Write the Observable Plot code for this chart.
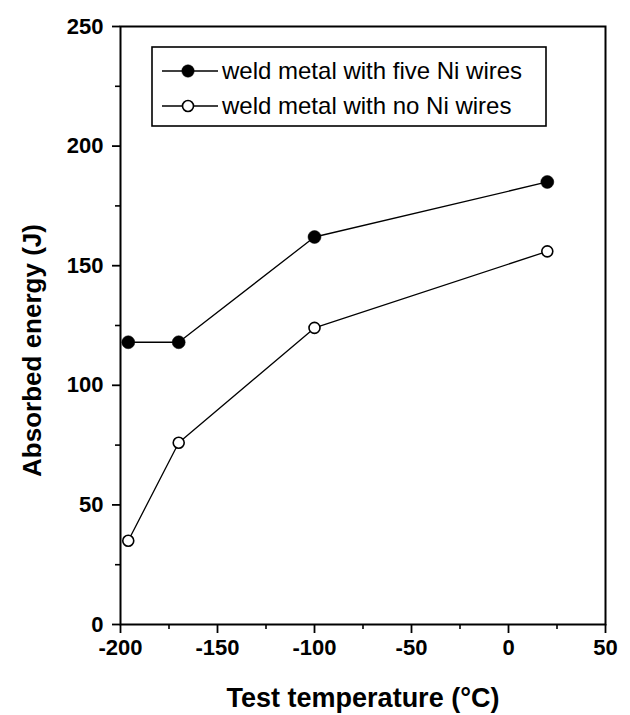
<!DOCTYPE html>
<html>
<head>
<meta charset="utf-8">
<script src="https://cdn.jsdelivr.net/npm/d3@7"></script>
<script src="https://cdn.jsdelivr.net/npm/@observablehq/plot@0.6"></script>
<style>
  html, body { margin: 0; padding: 0; background: white; }
  #chart { position: relative; width: 630px; height: 715px; }
</style>
</head>
<body>
<div id="chart"></div>
<script>
// Data
const temperatures = [-196, -170, -100, 20];
const fiveNiWires = [118, 118, 162, 185];
const noNiWires = [35, 76, 124, 156];
const seriesNames = ["weld metal with five Ni wires", "weld metal with no Ni wires"];
const xTicks = [-200, -150, -100, -50, 0, 50];
const xMinorTicks = [-175, -125, -75, -25, 25];
const yTicks = [0, 50, 100, 150, 200, 250];
const yMinorTicks = [25, 75, 125, 175, 225];
const xTitle = "Test temperature (°C)";
const yTitle = "Absorbed energy (J)";

const five = temperatures.map((t, i) => ({x: t, y: fiveNiWires[i]}));
const none = temperatures.map((t, i) => ({x: t, y: noNiWires[i]}));

const font = "Liberation Sans, Arial, Helvetica, sans-serif";

const plot = Plot.plot({
  width: 630,
  height: 715,
  marginLeft: 120,
  marginRight: 25,
  marginTop: 26,
  marginBottom: 91,
  style: {fontFamily: font, fontSize: "22px", fontWeight: "bold", background: "white", color: "black"},
  x: {domain: [-200, 50]},
  y: {domain: [0, 250]},
  marks: [
    Plot.axisX({ticks: xMinorTicks, tickSize: 5, text: null, label: null, strokeWidth: 1.6}),
    Plot.axisX({ticks: xTicks, tickSize: 9, tickPadding: 6, strokeWidth: 1.8, tickFormat: d => String(d), label: null, fontSize: 22}),
    Plot.axisY({ticks: yMinorTicks, tickSize: 5, text: null, label: null, strokeWidth: 1.6}),
    Plot.axisY({ticks: yTicks, tickSize: 8, tickPadding: 9, strokeWidth: 1.8, tickFormat: d => String(d), label: null, fontSize: 22}),
    Plot.frame({stroke: "black", strokeWidth: 2}),
    Plot.line(five, {x: "x", y: "y", stroke: "black", strokeWidth: 1.3}),
    Plot.line(none, {x: "x", y: "y", stroke: "black", strokeWidth: 1.3}),
    Plot.dot(five, {x: "x", y: "y", r: 6.5, fill: "black", stroke: "black", strokeWidth: 0.5}),
    Plot.dot(none, {x: "x", y: "y", r: 5.5, fill: "white", stroke: "black", strokeWidth: 1.6}),
    Plot.text([xTitle], {frameAnchor: "bottom", lineAnchor: "middle", textAnchor: "middle", dy: 74, fontSize: 27, fontWeight: "bold", fill: "black"}),
    Plot.text([yTitle], {frameAnchor: "left", lineAnchor: "middle", textAnchor: "middle", dx: -88, dy: 25, rotate: -90, fontSize: 26, fontWeight: "bold", fill: "black"})
  ]
});

document.getElementById("chart").appendChild(plot);

// Legend box inside the plot area
const svg = d3.select(plot);
const lg = svg.append("g").attr("font-family", font).attr("text-anchor", "start");
const bx = 152, by = 47, bw = 394, bh = 79;
lg.append("rect").attr("x", bx).attr("y", by).attr("width", bw).attr("height", bh)
  .attr("fill", "white").attr("stroke", "black").attr("stroke-width", 1.6);
const rows = [
  {name: seriesNames[0], filled: true, cy: by + 24},
  {name: seriesNames[1], filled: false, cy: by + 59}
];
rows.forEach(r => {
  lg.append("line").attr("x1", bx + 10).attr("x2", bx + 66).attr("y1", r.cy).attr("y2", r.cy)
    .attr("stroke", "black").attr("stroke-width", 1.3);
  lg.append("circle").attr("cx", bx + 36).attr("cy", r.cy).attr("r", r.filled ? 6.2 : 5.5)
    .attr("fill", r.filled ? "black" : "white").attr("stroke", "black").attr("stroke-width", r.filled ? 0.5 : 1.6);
  lg.append("text").attr("x", bx + 70).attr("y", r.cy).attr("dy", "0.35em")
    .attr("font-size", 24).attr("font-weight", "normal").attr("fill", "black").text(r.name);
});
</script>
</body>
</html>
